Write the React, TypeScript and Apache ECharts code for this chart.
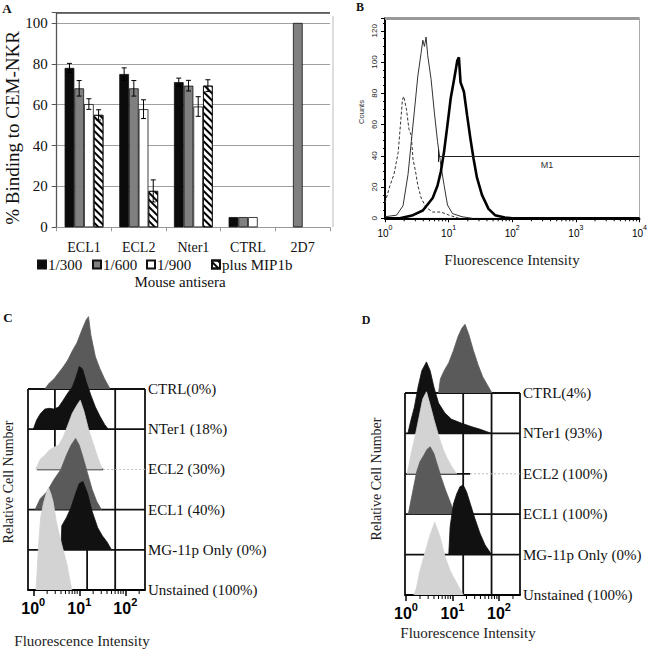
import React, { useEffect, useRef } from 'react';
import * as echarts from 'echarts';

// ---------------- Panel A data ----------------
const categoriesA = ['ECL1', 'ECL2', 'Nter1', 'CTRL', '2D7'];
const seriesNamesA = ['1/300', '1/600', '1/900', 'plus MIP1b'];
const v300 = [78, 75, 71, 5, null];
const v600 = [68, 68, 69.3, 5, 100];
const v900 = [60.3, 57.8, 59.1, 5, null];
const vMip = [55, 17.8, 69.3, null, null];
const e300 = [2.2, 3, 2, null, null];
const e600 = [3.8, 3.8, 2.6, null, null];
const e900 = [2.6, 4.6, 4.8, null, null];
const eMip = [2.5, 5.4, 2.9, null, null];

// ---------------- Panel B data ----------------
const isoX = [1.0, 1.2, 1.38, 1.61, 1.75, 1.88, 1.97, 2.17, 2.38, 2.59, 2.75, 3.02, 3.28, 3.7, 4.42, 5.62, 7.55, 10.2, 14.5];
const isoY = [10, 21, 28, 42, 60, 76, 78, 70, 57, 53, 38, 30, 21, 13, 7, 4, 4, 2, 0];
const thinX = [1.0, 1.52, 1.92, 2.3, 2.59, 2.92, 3.28, 3.7, 3.93, 4.17, 4.42, 4.7, 5.3, 5.96, 6.7, 7.55, 8.5, 9.6, 11.5, 16.3, 23.4];
const thinY = [1, 2, 8, 28, 49, 70, 91, 106, 114, 110, 116, 104, 89, 68, 49, 34, 21, 8.5, 3, 1, 0];
const thickX = [1, 1.71, 2.75, 3.93, 5.62, 6.7, 7.55, 8.5, 9.6, 10.8, 12.2, 13.7, 14.5, 15.4, 17.4, 19.5, 22, 24.7, 27.9, 33.4, 42.4, 53.6, 76.6, 100, 10000];
const thickY = [0, 0, 2, 5, 13, 21, 30, 43, 60, 77, 89, 101, 103, 87, 81, 66, 51, 38, 26, 15, 6, 2, 0.5, 0, 0];
const m1Start = 6.96;
const m1End = 10000;
const m1Level = 40;

// ---------------- Panel C data (x in decades, h in row units) ----------------
const rowLabelsC = ['Unstained (100%)', 'MG-11p Only (0%)', 'ECL1 (40%)', 'ECL2 (30%)', 'NTer1 (18%)', 'CTRL(0%)'];
const ctrlCx = [0.25, 0.35, 0.45, 0.55, 0.65, 0.75, 0.85, 0.95, 1.05, 1.15, 1.2, 1.25, 1.35, 1.45, 1.55, 1.67];
const ctrlCh = [0, 0.15, 0.25, 0.4, 0.55, 0.72, 0.95, 1.15, 1.45, 1.72, 1.8, 1.35, 0.8, 0.5, 0.25, 0];
const nterCx = [0.0, 0.07, 0.15, 0.25, 0.35, 0.45, 0.55, 0.65, 0.75, 0.85, 0.93, 1.0, 1.07, 1.15, 1.25, 1.35, 1.45, 1.55, 1.63];
const nterCh = [0, 0.22, 0.38, 0.5, 0.52, 0.5, 0.55, 0.72, 0.9, 1.05, 1.3, 1.56, 1.5, 1.18, 0.85, 0.55, 0.32, 0.12, 0];
const ecl2Cx = [0.05, 0.15, 0.25, 0.35, 0.45, 0.55, 0.65, 0.75, 0.85, 0.95, 1.02, 1.1, 1.2, 1.3, 1.4, 1.5];
const ecl2Ch = [0, 0.25, 0.35, 0.48, 0.55, 0.6, 0.8, 1.1, 1.4, 1.6, 1.72, 1.45, 1.0, 0.65, 0.3, 0];
const ecl1Cx = [0.04, 0.15, 0.3, 0.45, 0.6, 0.72, 0.82, 0.92, 1.0, 1.08, 1.18, 1.28, 1.38, 1.48];
const ecl1Ch = [0, 0.27, 0.45, 0.75, 1.0, 1.35, 1.6, 1.77, 1.6, 1.3, 0.9, 0.5, 0.2, 0];
const mgCx = [0.6, 0.62, 0.72, 0.82, 0.92, 1.0, 1.08, 1.18, 1.28, 1.4, 1.5, 1.6, 1.7];
const mgCh = [0, 0.6, 0.8, 1.05, 1.4, 1.65, 1.7, 1.4, 0.95, 0.55, 0.35, 0.2, 0];
const unsCx = [0.06, 0.09, 0.12, 0.16, 0.22, 0.28, 0.33, 0.38, 0.43, 0.5, 0.58, 0.66, 0.74, 0.8, 0.84];
const unsCh = [0, 0.6, 1.2, 1.8, 2.15, 2.4, 2.55, 2.4, 2.2, 1.7, 1.3, 0.95, 0.6, 0.2, 0];

// ---------------- Panel D data ----------------
const rowLabelsD = ['Unstained (100%)', 'MG-11p Only (0%)', 'ECL1 (100%)', 'ECL2 (100%)', 'NTer1 (93%)', 'CTRL(4%)'];
const ctrlDx = [0.7, 0.74, 0.82, 0.92, 1.02, 1.12, 1.2, 1.27, 1.35, 1.45, 1.55, 1.65, 1.75, 1.85];
const ctrlDh = [0, 0.35, 0.55, 0.75, 1.05, 1.4, 1.6, 1.7, 1.45, 1.05, 0.7, 0.4, 0.2, 0];
const nterDx = [0.04, 0.1, 0.18, 0.26, 0.34, 0.44, 0.52, 0.6, 0.7, 0.84, 0.98, 1.2, 1.4, 1.6, 1.84];
const nterDh = [0, 0.3, 0.65, 1.15, 1.55, 1.77, 1.55, 1.15, 0.75, 0.5, 0.35, 0.25, 0.17, 0.1, 0];
const ecl2Dx = [0.02, 0.06, 0.12, 0.2, 0.28, 0.36, 0.44, 0.52, 0.6, 0.7, 0.8, 0.9, 1.0, 1.09];
const ecl2Dh = [0, 0.2, 0.55, 0.95, 1.4, 1.85, 2.03, 1.7, 1.35, 0.95, 0.6, 0.35, 0.15, 0];
const ecl1Dx = [0.05, 0.1, 0.16, 0.23, 0.3, 0.38, 0.45, 0.52, 0.6, 0.68, 0.76, 0.85, 0.95, 1.05];
const ecl1Dh = [0, 0.3, 0.65, 1.05, 1.3, 1.45, 1.6, 1.67, 1.5, 1.2, 0.9, 0.6, 0.3, 0];
const mgDx = [0.92, 0.95, 1.02, 1.09, 1.16, 1.23, 1.3, 1.38, 1.48, 1.59, 1.7, 1.84];
const mgDh = [0, 0.7, 1.25, 1.5, 1.68, 1.72, 1.56, 1.27, 0.9, 0.53, 0.24, 0];
const unsDx = [0.17, 0.22, 0.3, 0.41, 0.52, 0.62, 0.73, 0.84, 0.95, 1.09, 1.23];
const unsDh = [0, 0.15, 0.6, 1.05, 1.5, 1.8, 1.45, 0.95, 0.6, 0.3, 0];

// frame segments of the offset-overlay panels [x1, y1, x2, y2] (decades, rows)
const framesC = [
  [-0.115, 5, 2.428, 5], [-0.115, 4, 2.428, 4], [0.08, 3, 1.52, 3], [-0.115, 2, 2.428, 2], [-0.115, 1, 2.428, 1],
  [-0.115, 0, -0.115, 5], [0.47, 3.5, 0.47, 5], [1.17, 0, 1.17, 2], [1.78, 0, 1.78, 5], [2.428, 0, 2.428, 5],
];
const faintC = [[1.52, 3, 2.49, 3]];
const framesD = [
  [-0.0215, 5, 2.452, 5], [-0.0215, 4, 2.452, 4], [-0.0215, 3, 1.38, 3], [-0.0215, 2, 2.452, 2], [-0.0215, 1, 2.452, 1],
  [-0.0215, 0, -0.0215, 5], [1.23, 0, 1.23, 5], [1.84, 0, 1.84, 5], [2.452, 0, 2.452, 5],
];
const faintD = [[1.38, 3, 2.52, 3]];

const SERIF = "'Liberation Serif', 'DejaVu Serif', serif";
const SANS = "'Liberation Sans', 'DejaVu Sans', Arial, sans-serif";
const DARK = '#5a5a5a';
const BLACK = '#111111';
const LIGHT = '#d3d3d3';

function buildOption() {
  const valsA = [v300, v600, v900, vMip];
  const errsA = [e300, e600, e900, eMip];
  const barColors = ['#0b0b0b', '#808080', '#ffffff', '#ffffff'];
  const legendLeft = [37, 92, 146, 211];

  const errData: any[] = [];
  errsA.forEach((errs, s) => {
    errs.forEach((e, c) => {
      const v = valsA[s][c];
      if (e != null && v != null) errData.push([c, s, v, e]);
    });
  });

  const barSeries = seriesNamesA.map((name, i) => ({
    type: 'bar',
    name,
    xAxisIndex: 0,
    yAxisIndex: 0,
    data: valsA[i],
    barGap: '0%',
    barCategoryGap: '29%',
    itemStyle: {
      color: barColors[i],
      borderColor: '#111',
      borderWidth: 0.8,
      ...(i === 3
        ? {
            decal: {
              symbol: 'rect',
              symbolSize: 1,
              color: '#000',
              backgroundColor: '#fff',
              dashArrayX: [1, 0],
              dashArrayY: [1.6, 2.2],
              rotation: Math.PI / 4,
            },
          }
        : {}),
    },
    silent: true,
    ...(i === 0
      ? {
          markLine: {
            silent: true,
            symbol: ['none', 'none'],
            label: { show: false },
            lineStyle: { color: '#444', width: 1.5, type: 'solid' },
            data: [{ yAxis: 105 }],
          },
        }
      : {}),
  }));

  const errSeries = {
    type: 'custom',
    xAxisIndex: 0,
    yAxisIndex: 0,
    data: errData,
    encode: { x: 0, y: 2 },
    z: 5,
    silent: true,
    renderItem: (params: any, api: any) => {
      const cat = api.value(0);
      const slot = api.value(1);
      const val = api.value(2);
      const err = api.value(3);
      const band = api.size([1, 0])[0];
      const barW = (band * 0.71) / 4;
      const base = api.coord([cat, val]);
      const cx = base[0] + (slot - 1.5) * barW;
      const yt = api.coord([cat, val + err])[1];
      const yb = api.coord([cat, val - err])[1];
      const cap = 2.5;
      const st = { stroke: '#000', lineWidth: 1 };
      return {
        type: 'group',
        children: [
          { type: 'line', shape: { x1: cx, y1: yt, x2: cx, y2: yb }, style: st },
          { type: 'line', shape: { x1: cx - cap, y1: yt, x2: cx + cap, y2: yt }, style: st },
          { type: 'line', shape: { x1: cx - cap, y1: yb, x2: cx + cap, y2: yb }, style: st },
        ],
      };
    },
  };

  const zip = (xs: number[], ys: number[]) => xs.map((x, i) => [x, ys[i]]);

  const bSeries = [
    {
      type: 'line',
      xAxisIndex: 1,
      yAxisIndex: 1,
      data: zip(isoX, isoY),
      showSymbol: false,
      symbol: 'none',
      silent: true,
      lineStyle: { color: '#333', width: 1, type: [3, 2] },
    },
    {
      type: 'line',
      xAxisIndex: 1,
      yAxisIndex: 1,
      data: zip(thinX, thinY),
      showSymbol: false,
      symbol: 'none',
      silent: true,
      lineStyle: { color: '#333', width: 1 },
    },
    {
      type: 'line',
      xAxisIndex: 1,
      yAxisIndex: 1,
      data: zip(thickX, thickY),
      showSymbol: false,
      symbol: 'none',
      silent: true,
      lineStyle: { color: '#000', width: 2.6 },
      markLine: {
        silent: true,
        symbol: ['none', 'none'],
        label: { show: false },
        data: [
          [
            { coord: [m1Start, m1Level], lineStyle: { color: '#222', width: 1, type: 'solid' } },
            { coord: [m1End, m1Level] },
          ],
          [
            { coord: [m1Start, m1Level - 4], lineStyle: { color: '#222', width: 1, type: 'solid' } },
            { coord: [m1Start, m1Level + 4] },
          ],
          [
            { coord: [1, 128], lineStyle: { color: '#999', width: 3, type: 'solid' } },
            { coord: [10000, 128] },
          ],
        ],
      },
    },
  ];

  const minorB: number[][] = [];
  [1, 10, 100, 1000].forEach((dec) => {
    [2, 3, 4, 5, 6, 7, 8, 9].forEach((m) => minorB.push([m * dec, 0]));
  });
  const minorTickSeries = (xi: number, yi: number, data: number[][], len: number) => ({
    type: 'custom',
    xAxisIndex: xi,
    yAxisIndex: yi,
    data,
    encode: { x: 0, y: 1 },
    silent: true,
    clip: false,
    z: 6,
    renderItem: (p: any, api: any) => {
      const pt = api.coord([api.value(0), api.value(1)]);
      return {
        type: 'line',
        shape: { x1: pt[0], y1: pt[1], x2: pt[0], y2: pt[1] + len },
        style: { stroke: '#000', lineWidth: 1 },
      };
    },
  });

  const segSeries = (xi: number, yi: number, data: number[][], color: string, width: number, dash?: number[]) => ({
    type: 'custom',
    xAxisIndex: xi,
    yAxisIndex: yi,
    data,
    encode: { x: [0, 2], y: [1, 3] },
    silent: true,
    clip: false,
    z: 1,
    renderItem: (p: any, api: any) => {
      const a = api.coord([api.value(0), api.value(1)]);
      const b = api.coord([api.value(2), api.value(3)]);
      return {
        type: 'line',
        shape: { x1: a[0], y1: a[1], x2: b[0], y2: b[1] },
        style: { stroke: color, lineWidth: width, lineDash: dash || null },
      };
    },
  });

  const hist = (xi: number, yi: number, xs: number[], hs: number[], row: number, color: string, z: number) => ({
    type: 'line',
    xAxisIndex: xi,
    yAxisIndex: yi,
    data: xs.map((x, i) => [x, row + hs[i]]),
    showSymbol: false,
    symbol: 'none',
    silent: true,
    z,
    lineStyle: { color, width: 0.8 },
    areaStyle: { color, opacity: 1, origin: row },
  });

  const minorDec: number[][] = [];
  [0, 1, 2].forEach((k) => {
    [2, 3, 4, 5, 6, 7, 8, 9].forEach((m) => {
      const v = k + Math.log10(m);
      if (v < 2.42) minorDec.push([v, 0]);
    });
  });

  const histC = [
    hist(2, 2, ctrlCx, ctrlCh, 5, DARK, 3),
    hist(2, 2, nterCx, nterCh, 4, BLACK, 4),
    hist(2, 2, ecl2Cx, ecl2Ch, 3, LIGHT, 5),
    hist(2, 2, ecl1Cx, ecl1Ch, 2, DARK, 6),
    hist(2, 2, mgCx, mgCh, 1, BLACK, 7),
    hist(2, 2, unsCx, unsCh, 0, LIGHT, 8),
  ];
  const histD = [
    hist(3, 3, ctrlDx, ctrlDh, 5, DARK, 3),
    hist(3, 3, nterDx, nterDh, 4, BLACK, 4),
    hist(3, 3, ecl2Dx, ecl2Dh, 3, LIGHT, 5),
    hist(3, 3, ecl1Dx, ecl1Dh, 2, DARK, 6),
    hist(3, 3, mgDx, mgDh, 1, BLACK, 7),
    hist(3, 3, unsDx, unsDh, 0, LIGHT, 8),
  ];

  const decLabel = (fs: number, ss: number, bold: boolean) => ({
    b: { fontSize: fs, fontFamily: SANS, fontWeight: bold ? 'bold' : 'normal', color: '#000', lineHeight: fs + 4, verticalAlign: 'bottom' },
    s: { fontSize: ss, fontFamily: SANS, fontWeight: bold ? 'bold' : 'normal', color: '#000', lineHeight: ss, verticalAlign: 'top' },
  });

  const flowXAxis = (gi: number, min: number, max: number) => ({
    type: 'value',
    gridIndex: gi,
    min,
    max,
    axisLine: { show: true, onZero: false, lineStyle: { color: '#000', width: 2 } },
    axisTick: { show: true, customValues: [0, 1, 2], length: 6, lineStyle: { color: '#000', width: 1.5 } },
    axisLabel: {
      customValues: [0, 1, 2],
      margin: 6,
      formatter: (v: number) => `{b|10}{s|${Math.round(v)}}`,
      rich: decLabel(16, 11, true),
    },
    splitLine: { show: false },
  });
  const flowYAxis = (gi: number, labels: string[]) => ({
    type: 'value',
    gridIndex: gi,
    position: 'right',
    min: 0,
    max: 7,
    interval: 1,
    axisLine: { show: false },
    axisTick: { show: false },
    splitLine: { show: false },
    axisLabel: {
      margin: 3,
      fontFamily: SERIF,
      fontSize: 15,
      color: '#111',
      padding: [4, 0, 0, 0],
      formatter: (v: number) => labels[Math.round(v)] ?? '',
    },
  });

  const txt = (text: string, x: number, y: number, font: string, rot = 0, color = '#111') => ({
    type: 'text',
    x,
    y,
    rotation: rot,
    silent: true,
    style: { text, font, fill: color, textAlign: 'center', textVerticalAlign: 'middle' },
  });

  return {
    animation: false,
    backgroundColor: '#ffffff',
    grid: [
      { left: 56.7, top: 12.7, width: 273.3, height: 214.6 },
      { left: 385, top: 18.3, width: 258, height: 200, show: true, borderColor: '#aaa', borderWidth: 1 },
      { left: 28, top: 308.6, width: 117, height: 281.4 },
      { left: 405, top: 312.2, width: 115, height: 282.8 },
    ],
    legend: seriesNamesA.map((n, i) => ({
      data: [n],
      left: legendLeft[i],
      top: 257,
      padding: 0,
      itemGap: 0,
      itemWidth: 8,
      itemHeight: 8,
      icon: 'rect',
      selectedMode: false,
      textStyle: { fontFamily: SERIF, fontSize: 15, color: '#111', padding: [0, 0, 0, -3] },
    })),
    xAxis: [
      {
        type: 'category',
        gridIndex: 0,
        data: categoriesA,
        axisLine: { lineStyle: { color: '#999', width: 1 } },
        axisTick: { show: true, length: 4, lineStyle: { color: '#999' } },
        axisLabel: { fontFamily: SERIF, fontSize: 14, color: '#111', margin: 13 },
      },
      {
        type: 'log',
        logBase: 10,
        gridIndex: 1,
        min: 1,
        max: 10000,
        axisLine: { show: true, onZero: false, lineStyle: { color: '#000', width: 2 } },
        axisTick: { show: true, length: 4, lineStyle: { color: '#000' } },
        axisLabel: {
          margin: 6,
          formatter: (v: number) => `{b|10}{s|${Math.round(Math.log10(v))}}`,
          rich: decLabel(10, 7, false),
        },
        splitLine: { show: false },
        minorSplitLine: { show: false },
      },
      flowXAxis(2, -0.115, 2.428),
      flowXAxis(3, -0.0215, 2.452),
    ],
    yAxis: [
      {
        type: 'value',
        gridIndex: 0,
        min: 0,
        max: 105,
        interval: 20,
        axisLine: { show: true, lineStyle: { color: '#555', width: 1.3 } },
        axisTick: { show: true, length: 5, lineStyle: { color: '#555' } },
        axisLabel: {
          fontFamily: SERIF,
          fontSize: 15,
          color: '#111',
          margin: 9,
          formatter: (v: number) => (v % 20 === 0 ? String(v) : ''),
        },
        splitLine: { show: true, lineStyle: { color: '#a0a0a0', width: 1 } },
      },
      {
        type: 'value',
        gridIndex: 1,
        min: 0,
        max: 128,
        interval: 20,
        axisLine: { show: true, lineStyle: { color: '#000', width: 2 } },
        axisTick: { show: true, length: 4, lineStyle: { color: '#000' } },
        minorTick: { show: true, splitNumber: 4, length: 2, lineStyle: { color: '#000' } },
        axisLabel: {
          rotate: 90,
          fontFamily: SANS,
          fontSize: 8,
          color: '#222',
          margin: 7,
          formatter: (v: number) => (v % 20 === 0 ? String(v) : ''),
        },
        splitLine: { show: false },
      },
      flowYAxis(2, rowLabelsC),
      flowYAxis(3, rowLabelsD),
    ],
    series: [
      ...barSeries,
      errSeries,
      ...bSeries,
      minorTickSeries(1, 1, minorB, 3),
      segSeries(2, 2, framesC, '#111', 1.8),
      segSeries(2, 2, faintC, '#bbb', 1, [2, 2]),
      ...histC,
      minorTickSeries(2, 2, minorDec, 4),
      segSeries(3, 3, framesD, '#111', 1.8),
      segSeries(3, 3, faintD, '#bbb', 1, [2, 2]),
      ...histD,
      minorTickSeries(3, 3, minorDec, 4),
    ],
    graphic: [
      txt('A', 7, 8, `bold 13px ${SERIF}`),
      txt('B', 360, 7, `bold 12px ${SERIF}`),
      txt('C', 8, 317, `bold 13px ${SERIF}`),
      txt('D', 366, 320, `bold 12px ${SERIF}`),
      txt('% Binding to CEM-NKR', 12, 128, `19px ${SERIF}`, Math.PI / 2),
      txt('Mouse antisera', 180, 282, `15px ${SERIF}`),
      txt('Counts', 361, 112, `7.5px ${SANS}`, Math.PI / 2, '#333'),
      txt('M1', 547, 165, `9px ${SANS}`, 0, '#333'),
      txt('Fluorescence Intensity', 512, 260, `15px ${SERIF}`, 0, '#222'),
      txt('Fluorescence Intensity', 82, 641, `15px ${SERIF}`, 0, '#222'),
      txt('Fluorescence Intensity', 468, 633, `15px ${SERIF}`, 0, '#222'),
      txt('Relative Cell Number', 8, 482, `14px ${SERIF}`, Math.PI / 2, '#222'),
      txt('Relative Cell Number', 376, 479, `14px ${SERIF}`, Math.PI / 2, '#222'),
      {
        type: 'line',
        silent: true,
        shape: { x1: 333, y1: 16, x2: 333, y2: 227 },
        style: { stroke: '#bbb', lineWidth: 1 },
      },
    ],
  };
}

export default function App() {
  const ref = useRef<HTMLDivElement>(null);
  useEffect(() => {
    if (!ref.current) return;
    const chart = echarts.init(ref.current, null, { renderer: 'svg' });
    chart.setOption(buildOption() as any);
    return () => chart.dispose();
  }, []);
  return (
    <div
      ref={ref}
      style={{ position: 'absolute', left: 0, top: 0, width: 650, height: 651, background: '#fff' }}
    />
  );
}
